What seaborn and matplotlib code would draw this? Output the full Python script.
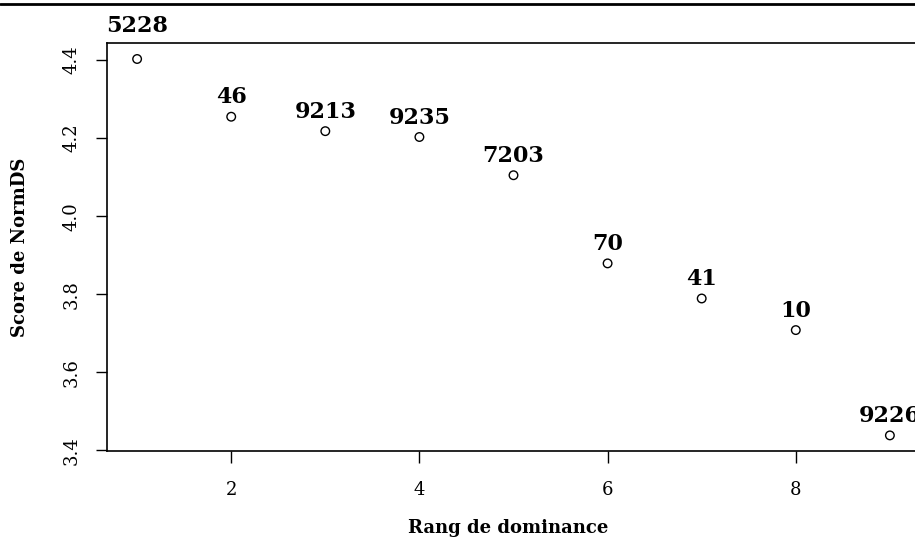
import numpy as np
import pandas as pd
import seaborn as sns
from matplotlib import pyplot as plt
from matplotlib.lines import Line2D

# Values
ranks = [1, 2, 3, 4, 5, 6, 7, 8, 9]
scores = [4.403, 4.255, 4.218, 4.203, 4.105, 3.879, 3.789, 3.708, 3.438]
labels = ["5228", "46", "9213", "9235", "7203", "70", "41", "10", "9226"]
x_ticks = [2, 4, 6, 8]
y_ticks = [3.4, 3.6, 3.8, 4.0, 4.2, 4.4]

df = pd.DataFrame({"rank": ranks, "score": scores, "label": labels})

sns.set_style("white")
plt.rcParams["font.family"] = ["DejaVu Serif"]
plt.rcParams["text.color"] = "black"
plt.rcParams["axes.labelcolor"] = "black"

W, H = 915, 538
fig = plt.figure(figsize=(W / 100, H / 100), dpi=100)
fig.patch.set_facecolor("white")

# axes box runs slightly past the right edge of the picture (cropped original)
left, right, top, bottom = 107, 920, 43, 451
ax = fig.add_axes([left / W, 1 - bottom / H, (right - left) / W, (bottom - top) / H])

sns.scatterplot(data=df, x="rank", y="score", ax=ax, marker="o", s=38,
                facecolor="none", edgecolor="black", linewidth=1.0, legend=False)

for i, row in df.iterrows():
    # the top label sits a bit higher in the original
    dy = 16 if i == 0 else 6
    ax.annotate(row["label"], (row["rank"], row["score"]), xytext=(0, dy),
                textcoords="offset points", ha="center", va="bottom",
                fontsize=16, fontweight="bold", color="black",
                annotation_clip=False)

ax.set_xlim(0.68, 9.32)
ax.set_ylim(3.398, 4.444)
ax.set_xticks(x_ticks)
ax.set_xticklabels([str(t) for t in x_ticks])
ax.set_yticks(y_ticks)
ax.set_yticklabels([f"{t:.1f}" for t in y_ticks], rotation=90, va="center")

for side in ["top", "bottom", "left", "right"]:
    ax.spines[side].set_color("black")
    ax.spines[side].set_linewidth(1.2)

ax.tick_params(axis="x", direction="out", length=8.5, width=1.0, pad=13,
               labelsize=13, colors="black", bottom=True)
ax.tick_params(axis="y", direction="out", length=8, width=1.0, pad=11,
               labelsize=13, colors="black", left=True)

ax.set_xlabel("")
ax.set_ylabel("")
fig.text(508 / W, 1 - 528 / H, "Rang de dominance", ha="center", va="center",
         fontsize=13, fontweight="bold", color="black")
fig.text(20 / W, 1 - 247 / H, "Score de NormDS", ha="center", va="center",
         rotation=90, fontsize=13, fontweight="bold", color="black")

# thick rule across the top of the picture
fig.add_artist(Line2D([0, 1], [1 - 4 / H, 1 - 4 / H], color="black", linewidth=2.0,
                      transform=fig.transFigure))

fig.savefig("out.png", dpi=100)
